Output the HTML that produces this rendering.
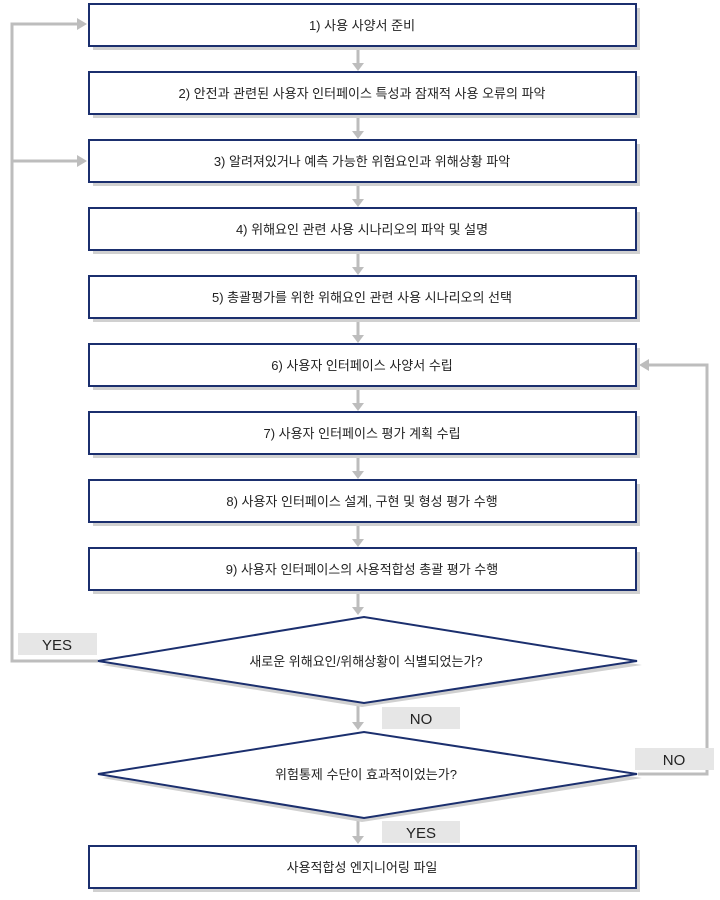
<!DOCTYPE html>
<html><head><meta charset="utf-8"><style>
html,body{margin:0;padding:0;background:#fff;}
svg text{font-family:"Liberation Sans","Noto Sans CJK KR",sans-serif;font-size:13px;fill:#222;}
</style></head><body>
<svg width="720" height="895" viewBox="0 0 720 895" xmlns="http://www.w3.org/2000/svg">
<defs>
<g id="ah"><polygon points="-5,-9 5,-9 0,0" fill="#bdbdbd"/></g>
</defs>
<g stroke="#bdbdbd" stroke-width="3" fill="none">
<!-- vertical connectors between boxes -->
<line x1="358" y1="46" x2="358" y2="64"/>
<line x1="358" y1="114" x2="358" y2="132"/>
<line x1="358" y1="182" x2="358" y2="200"/>
<line x1="358" y1="250" x2="358" y2="268"/>
<line x1="358" y1="318" x2="358" y2="336"/>
<line x1="358" y1="386" x2="358" y2="404"/>
<line x1="358" y1="454" x2="358" y2="472"/>
<line x1="358" y1="522" x2="358" y2="540"/>
<line x1="358" y1="590" x2="358" y2="608"/>
<line x1="358" y1="704" x2="358" y2="723"/>
<line x1="358" y1="818" x2="358" y2="837"/>
<!-- left loop -->
<polyline points="98,661 12,661 12,24 78,24"/>
<line x1="12" y1="161" x2="78" y2="161"/>
<!-- right loop -->
<polyline points="638,774 707,774 707,365 648,365"/>
</g>
<g fill="#bdbdbd">
<polygon points="352,63 364,63 358,71"/>
<polygon points="352,131 364,131 358,139"/>
<polygon points="352,199 364,199 358,207"/>
<polygon points="352,267 364,267 358,275"/>
<polygon points="352,335 364,335 358,343"/>
<polygon points="352,403 364,403 358,411"/>
<polygon points="352,471 364,471 358,479"/>
<polygon points="352,539 364,539 358,547"/>
<polygon points="352,607 364,607 358,615"/>
<polygon points="352,722 364,722 358,730"/>
<polygon points="352,836 364,836 358,844"/>
<polygon points="77,18 77,30 87,24"/>
<polygon points="77,155 77,167 87,161"/>
<polygon points="649,359 649,371 639,365"/>
</g>
<!-- boxes -->
<g>
<g id="b">
</g>
</g>
<g fill="#d0d0d0">
<rect x="93" y="8" width="547" height="42"/>
<rect x="93" y="76" width="547" height="42"/>
<rect x="93" y="144" width="547" height="42"/>
<rect x="93" y="212" width="547" height="42"/>
<rect x="93" y="280" width="547" height="42"/>
<rect x="93" y="348" width="547" height="42"/>
<rect x="93" y="416" width="547" height="42"/>
<rect x="93" y="484" width="547" height="42"/>
<rect x="93" y="552" width="547" height="42"/>
<rect x="93" y="850" width="547" height="42"/>
<polygon points="102,665 362,621 642,665 362,707" />
<polygon points="102,778 362,736 642,778 362,822" />
</g>
<g fill="#fff" stroke="#1b2f6e" stroke-width="2">
<rect x="89" y="4" width="547" height="42"/>
<rect x="89" y="72" width="547" height="42"/>
<rect x="89" y="140" width="547" height="42"/>
<rect x="89" y="208" width="547" height="42"/>
<rect x="89" y="276" width="547" height="42"/>
<rect x="89" y="344" width="547" height="42"/>
<rect x="89" y="412" width="547" height="42"/>
<rect x="89" y="480" width="547" height="42"/>
<rect x="89" y="548" width="547" height="42"/>
<rect x="89" y="846" width="547" height="42"/>
<polygon points="98,661 364,617 637,661 364,703"/>
<polygon points="98,774 364,732 637,774 364,818"/>
</g>
<g fill="#e6e6e6">
<rect x="18" y="633" width="79" height="22"/>
<rect x="382" y="707" width="78" height="22"/>
<rect x="635" y="748" width="79" height="22"/>
<rect x="382" y="821" width="78" height="22"/>
</g>
<g text-anchor="middle">
<text x="362" y="30">1) 사용 사양서 준비</text>
<text x="362" y="98">2) 안전과 관련된 사용자 인터페이스 특성과 잠재적 사용 오류의 파악</text>
<text x="362" y="166">3) 알려져있거나 예측 가능한 위험요인과 위해상황 파악</text>
<text x="362" y="234">4) 위해요인 관련 사용 시나리오의 파악 및 설명</text>
<text x="362" y="302">5) 총괄평가를 위한 위해요인 관련 사용 시나리오의 선택</text>
<text x="362" y="370">6) 사용자 인터페이스 사양서 수립</text>
<text x="362" y="438">7) 사용자 인터페이스 평가 계획 수립</text>
<text x="362" y="506">8) 사용자 인터페이스 설계, 구현 및 형성 평가 수행</text>
<text x="362" y="574">9) 사용자 인터페이스의 사용적합성 총괄 평가 수행</text>
<text x="366" y="666">새로운 위해요인/위해상황이 식별되었는가?</text>
<text x="366" y="779">위험통제 수단이 효과적이었는가?</text>
<text x="362" y="872">사용적합성 엔지니어링 파일</text>
<text x="57" y="650" style="font-size:15px">YES</text>
<text x="421" y="724" style="font-size:15px">NO</text>
<text x="674" y="765" style="font-size:15px">NO</text>
<text x="421" y="838" style="font-size:15px">YES</text>
</g>
</svg>
</body></html>
